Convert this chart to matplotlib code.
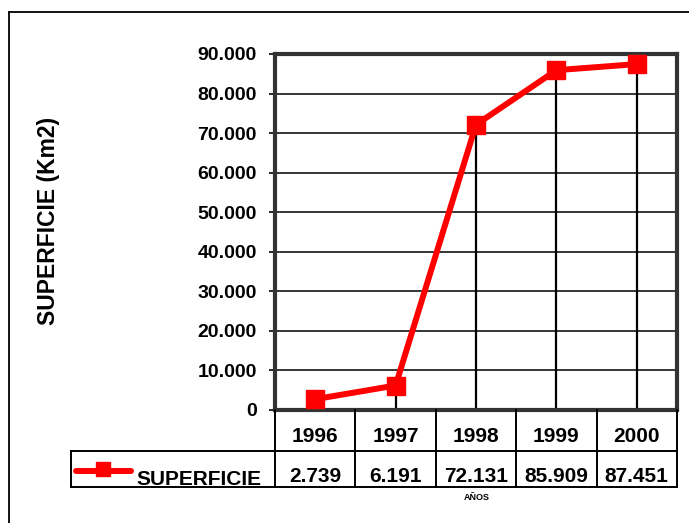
import matplotlib
matplotlib.use("Agg")
import matplotlib.pyplot as plt
from matplotlib.lines import Line2D
from matplotlib.transforms import blended_transform_factory
from matplotlib.ticker import FuncFormatter, MultipleLocator

years = ["1996", "1997", "1998", "1999", "2000"]
superficie = [2739, 6191, 72131, 85909, 87451]
value_labels = ["2.739", "6.191", "72.131", "85.909", "87.451"]
series_name = "SUPERFICIE"
y_label = "SUPERFICIE (Km2)"
x_label = "AÑOS"

plt.rcParams["font.family"] = ["Liberation Sans", "DejaVu Sans"]
plt.rcParams["font.weight"] = "bold"

W, H = 689, 523
fig = plt.figure(figsize=(W / 100, H / 100), dpi=100)


def fx(px):
    return px / W


def fy(py):
    return 1 - py / H


# plot area in pixels
left, right, top, bottom = 275, 677, 54, 410
ax = fig.add_axes([fx(left), fy(bottom), fx(right) - fx(left), fy(top) - fy(bottom)])

x = list(range(len(years)))
ax.set_xlim(-0.5, len(years) - 0.5)
ax.set_ylim(0, 90000)
ax.yaxis.set_major_locator(MultipleLocator(10000))
ax.yaxis.set_major_formatter(FuncFormatter(lambda v, p: f"{v:,.0f}".replace(",", ".")))
ax.grid(axis="y", color="black", linewidth=1.1, zorder=1)
ax.set_xticks([])
ax.tick_params(axis="y", length=4, width=1.2, labelsize=14, pad=9)
for lbl in ax.get_yticklabels():
    lbl.set_fontweight("bold")
for s in ax.spines.values():
    s.set_color("#333333")
    s.set_linewidth(3)

# drop lines
ax.vlines(x, 0, superficie, color="black", linewidth=1.6, zorder=2)
ax.plot(x, superficie, color="red", linewidth=4.3, marker="s", markersize=13.5,
        markerfacecolor="red", markeredgecolor="red", zorder=3, clip_on=False)

fig.text(fx(49), fy(221), y_label, rotation=90, ha="center", va="center",
         fontsize=16.5, fontweight="bold")

# data table below the plot
bt = blended_transform_factory(ax.transData, fig.transFigure)
lw = 1.4
row1, row2, row3 = bottom, 451, 487
legend_left = 71
for i in range(len(years) + 1):
    xb = i - 0.5
    fig.add_artist(Line2D([xb, xb], [fy(row1), fy(row3)], transform=bt, color="black", lw=lw))
fig.add_artist(Line2D([fx(legend_left), fx(right)], [fy(row2), fy(row2)], transform=fig.transFigure,
                      color="black", lw=lw))
fig.add_artist(Line2D([fx(legend_left), fx(right)], [fy(row3), fy(row3)], transform=fig.transFigure,
                      color="black", lw=lw))
fig.add_artist(Line2D([fx(legend_left), fx(legend_left)], [fy(row2), fy(row3)], transform=fig.transFigure,
                      color="black", lw=lw))

for i, (yr, val) in enumerate(zip(years, value_labels)):
    fig.text(i, fy(436), yr, transform=bt, ha="center", va="center", fontsize=15, fontweight="bold")
    fig.text(i, fy(476), val, transform=bt, ha="center", va="center", fontsize=15, fontweight="bold")

# legend key
fig.add_artist(Line2D([fx(76), fx(131)], [fy(471), fy(471)], transform=fig.transFigure,
                      color="red", lw=4.3, solid_capstyle="round"))
fig.add_artist(Line2D([fx(103)], [fy(469)], transform=fig.transFigure, marker="s",
                      markersize=9.5, color="red"))
fig.text(fx(136), fy(485), series_name, ha="left", va="baseline", fontsize=15, fontweight="bold")

fig.text(fx(477), fy(497), x_label, ha="center", va="center", fontsize=6.5, fontweight="bold")

# outer chart frame (only left and top edges are inside the image)
fig.add_artist(Line2D([fx(9), fx(9)], [fy(12), 0], transform=fig.transFigure, color="black", lw=1.3))
fig.add_artist(Line2D([fx(9), 1], [fy(12), fy(12)], transform=fig.transFigure, color="black", lw=1.3))

fig.savefig("out.png", dpi=100)
